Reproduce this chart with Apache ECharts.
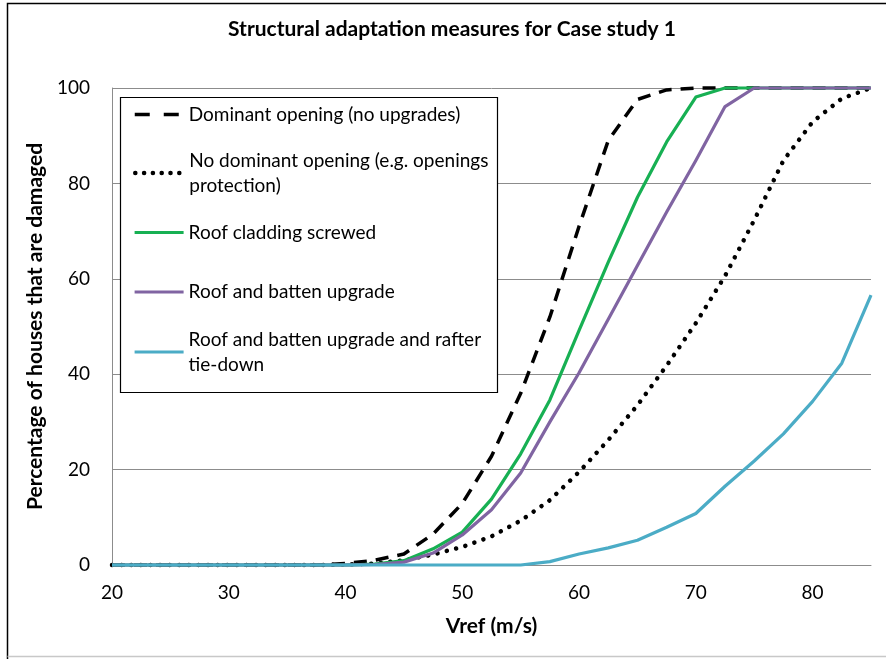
<!DOCTYPE html>
<html>
<head>
<meta charset="utf-8">
<script src="https://cdn.jsdelivr.net/npm/echarts@6/dist/echarts.min.js"></script>
<style>
  html, body { margin: 0; padding: 0; background: #ffffff; }
  #chart { width: 886px; height: 659px; }
</style>
</head>
<body>
<div id="chart"></div>
<script>
// ---- data ----
const titleText = 'Structural adaptation measures for Case study 1';
const xAxisName = 'Vref (m/s)';
const yAxisName = 'Percentage of houses that are damaged';

const vref = [20, 22.5, 25, 27.5, 30, 32.5, 35, 37.5, 40, 42.5, 45, 47.5, 50, 52.5, 55, 57.5, 60, 62.5, 65, 67.5, 70, 72.5, 75, 77.5, 80, 82.5, 85];

const seriesNames = [
  'Dominant opening (no upgrades)',
  'No dominant opening (e.g. openings protection)',
  'Roof cladding screwed',
  'Roof and batten upgrade',
  'Roof and batten upgrade and rafter tie-down'
];
const legendLabels = [
  'Dominant opening (no upgrades)',
  'No dominant opening (e.g. openings\nprotection)',
  'Roof cladding screwed',
  'Roof and batten upgrade',
  'Roof and batten upgrade and rafter\ntie-down'
];

const dominantOpening   = [0, 0, 0, 0, 0, 0, 0, 0, 0.3, 1.0, 2.3, 6.5, 12.9, 22.8, 36.0, 52.0, 71.0, 89.0, 97.6, 99.6, 100, 100, 100, 100, 100, 100, 100];
const noDominantOpening = [0, 0, 0, 0, 0, 0, 0, 0, 0.1, 0.3, 1.0, 2.2, 3.8, 6.0, 9.3, 13.6, 19.5, 26.2, 33.5, 41.8, 50.7, 60.6, 72.3, 84.8, 92.9, 97.8, 100];
const claddingScrewed   = [0, 0, 0, 0, 0, 0, 0, 0, 0, 0.2, 0.9, 3.4, 6.9, 13.8, 23.3, 34.6, 49.2, 63.5, 77.1, 88.7, 98.1, 100, 100, 100, 100, 100, 100];
const battenUpgrade     = [0, 0, 0, 0, 0, 0, 0, 0, 0, 0.1, 0.6, 2.5, 6.3, 11.6, 19.3, 30.0, 40.3, 51.5, 62.8, 74.0, 84.8, 96.1, 100, 100, 100, 100, 100];
const rafterTieDown     = [0, 0, 0, 0, 0, 0, 0, 0, 0, 0, 0, 0, 0, 0, 0, 0.7, 2.3, 3.6, 5.2, 7.9, 10.8, 16.5, 21.8, 27.5, 34.3, 42.3, 56.6];

const xTicks = { min: 20, max: 85, interval: 10 };
const yTicks = { min: 0, max: 100, interval: 20 };

// ---- chart ----
const FONT = 'Lato, "Noto Sans", sans-serif';
const pair = arr => vref.map((v, i) => [v, arr[i]]);

const seriesData = [dominantOpening, noDominantOpening, claddingScrewed, battenUpgrade, rafterTieDown];
const seriesStyles = [
  { color: '#000000', width: 3.5, type: [13, 9], cap: 'butt' },
  { color: '#000000', width: 4.5, type: [0.1, 9.5], cap: 'round' },
  { color: '#17b053', width: 3.2, type: 'solid', cap: 'butt' },
  { color: '#8064a2', width: 3.2, type: 'solid', cap: 'butt' },
  { color: '#4bacc6', width: 3.2, type: 'solid', cap: 'butt' }
];
const legendLineTypes = [[15, 14], [0.1, 8.7], 'solid', 'solid', 'solid'];

const legendTops = [102, 135.5, 220, 279.5, 314.5];

const chart = echarts.init(document.getElementById('chart'), null, { renderer: 'canvas' });

const option = {
  backgroundColor: '#ffffff',
  animation: false,
  textStyle: { fontFamily: FONT },
  title: {
    text: titleText,
    left: 452,
    top: 19,
    textAlign: 'center',
    padding: 0,
    textStyle: { fontFamily: FONT, fontSize: 21, fontWeight: 'bold', color: '#000' }
  },
  grid: { left: 112, right: 15, top: 88, bottom: 94, containLabel: false },
  xAxis: {
    type: 'value',
    min: xTicks.min, max: xTicks.max, interval: xTicks.interval,
    name: xAxisName,
    nameLocation: 'middle',
    nameGap: 51,
    nameTextStyle: { fontFamily: FONT, fontSize: 21, fontWeight: 'bold', color: '#000' },
    axisLine: { show: true, lineStyle: { color: '#8c8c8c', width: 1 } },
    axisTick: { show: false },
    splitLine: { show: false },
    axisLabel: { margin: 18, fontFamily: FONT, fontSize: 19, color: '#000', showMaxLabel: false,
      formatter: v => (v % 10 === 0 ? String(v) : '') }
  },
  yAxis: {
    type: 'value',
    min: yTicks.min, max: yTicks.max, interval: yTicks.interval,
    name: yAxisName,
    nameLocation: 'middle',
    nameGap: 61,
    nameTextStyle: { fontFamily: FONT, fontSize: 21, fontWeight: 'bold', color: '#000' },
    axisLine: { show: true, lineStyle: { color: '#8c8c8c', width: 1 } },
    axisTick: { show: false },
    splitLine: { show: true, lineStyle: { color: '#8c8c8c', width: 1 } },
    axisLabel: { margin: 22, fontFamily: FONT, fontSize: 19, color: '#000' }
  },
  legend: seriesNames.map((name, i) => ({
    data: [name],
    orient: 'vertical',
    left: 133,
    top: legendTops[i],
    padding: 0,
    itemWidth: 49,
    itemHeight: 14,
    selectedMode: false,
    z: 5,
    itemStyle: { opacity: 0 },
    lineStyle: {
      width: seriesStyles[i].width,
      type: legendLineTypes[i],
      cap: seriesStyles[i].cap,
      color: seriesStyles[i].color
    },
    formatter: () => legendLabels[i],
    textStyle: {
      fontFamily: FONT, fontSize: 19, color: '#000', lineHeight: 25,
      padding: legendLabels[i].indexOf('\n') >= 0 ? [25, 0, 0, 0] : 0
    }
  })),
  graphic: [
    { type: 'rect', z: 3, shape: { x: 120.5, y: 97.5, width: 377, height: 295 },
      style: { fill: '#ffffff', stroke: '#000000', lineWidth: 1.2 } },
    { type: 'polyline', z: 10, shape: { points: [[7.5, 659], [7.5, 3.5], [886, 3.5]] },
      style: { fill: null, stroke: '#000000', lineWidth: 1.5 } },
    { type: 'line', z: 10, shape: { x1: 7.5, y1: 656.5, x2: 886, y2: 656.5 },
      style: { stroke: '#c8c8c8', lineWidth: 1.5 } }
  ],
  series: seriesNames.map((name, i) => ({
    name: name,
    type: 'line',
    data: pair(seriesData[i]),
    showSymbol: false,
    symbol: 'none',
    smooth: false,
    clip: false,
    z: 2 + i * 0.1,
    lineStyle: {
      color: seriesStyles[i].color,
      width: seriesStyles[i].width,
      type: seriesStyles[i].type,
      cap: seriesStyles[i].cap,
      join: 'round'
    },
    itemStyle: { color: seriesStyles[i].color }
  }))
};

chart.setOption(option);
</script>
</body>
</html>
